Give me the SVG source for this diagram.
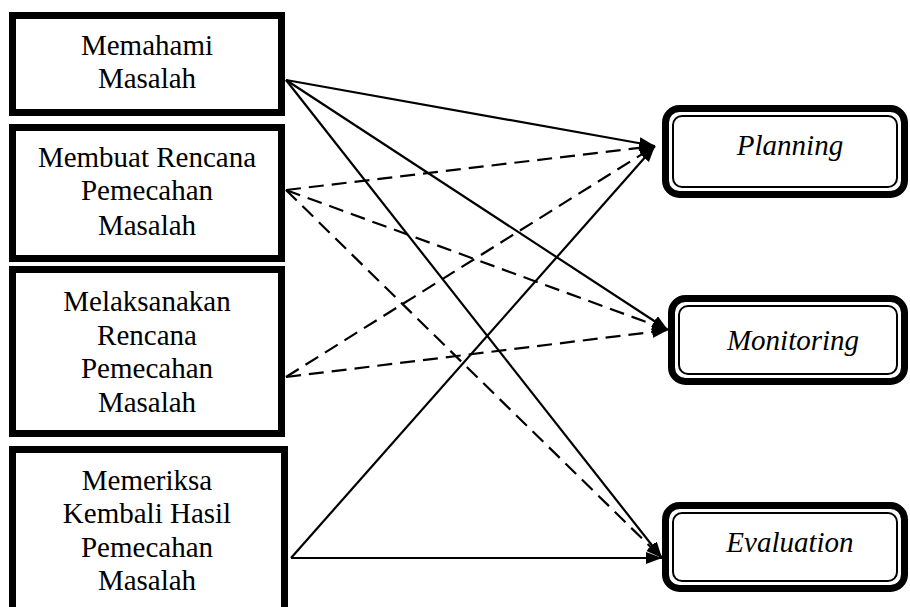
<svg xmlns="http://www.w3.org/2000/svg" width="910" height="607" viewBox="0 0 910 607">
<style>
.box{fill:#fff;stroke:#000;stroke-width:7}
.outer{fill:#fff;stroke:#000;stroke-width:7}
.inner{fill:none;stroke:#000;stroke-width:2}
text{font-family:'Liberation Serif','Times New Roman','DejaVu Serif',serif;font-size:29px;fill:#000;text-anchor:middle}
.ti{font-style:italic}
.c{stroke:#000;stroke-width:2.2;fill:none;marker-end:url(#ah)}
.d{stroke-dasharray:15 8}
</style>
<defs>
<marker id="ah" markerUnits="userSpaceOnUse" markerWidth="18" markerHeight="14" refX="16" refY="6" orient="auto">
<path d="M0,0 L16,6 L0,12 z" fill="#000"/>
</marker>
</defs>
<g id="connectors">
<line class="c" x1="286" y1="80" x2="655" y2="146"/>
<line class="c" x1="286" y1="80" x2="668" y2="330"/>
<line class="c" x1="286" y1="80" x2="662" y2="558"/>
<line class="c d" x1="286" y1="190" x2="655" y2="146"/>
<line class="c d" x1="286" y1="190" x2="668" y2="330"/>
<line class="c d" x1="286" y1="190" x2="662" y2="558"/>
<line class="c d" x1="286" y1="377" x2="655" y2="146"/>
<line class="c d" x1="286" y1="377" x2="668" y2="330"/>
<line class="c" x1="291" y1="558" x2="655" y2="146"/>
<line class="c" x1="291" y1="558" x2="662" y2="558"/>
</g>
<g id="n1" font-family="Liberation Serif, serif">
<rect class="box" x="12.5" y="15.5" width="269" height="97"/>
<text x="147" y="55">Memahami</text>
<text x="147" y="88">Masalah</text>
</g>
<g id="n2">
<rect class="box" x="12.5" y="127.5" width="269" height="131"/>
<text x="147" y="167">Membuat Rencana</text>
<text x="147" y="200">Pemecahan</text>
<text x="147" y="235">Masalah</text>
</g>
<g id="n3">
<rect class="box" x="12.5" y="269.5" width="269" height="164"/>
<text x="147" y="311">Melaksanakan</text>
<text x="147" y="345">Rencana</text>
<text x="147" y="378">Pemecahan</text>
<text x="147" y="412">Masalah</text>
</g>
<g id="n4">
<rect class="box" x="12.5" y="449.5" width="272" height="170"/>
<text x="147" y="490">Memeriksa</text>
<text x="147" y="523">Kembali Hasil</text>
<text x="147" y="557">Pemecahan</text>
<text x="147" y="590">Masalah</text>
</g>
<g id="planning">
<rect class="outer" x="665.5" y="108.5" width="239" height="86" rx="14"/>
<rect class="inner" x="673" y="116" width="224" height="71" rx="9"/>
<text class="ti" x="790" y="155">Planning</text>
</g>
<g id="monitoring">
<rect class="outer" x="671.5" y="298.5" width="233" height="83" rx="14"/>
<rect class="inner" x="679" y="306" width="218" height="68" rx="9"/>
<text class="ti" x="793" y="350">Monitoring</text>
</g>
<g id="evaluation">
<rect class="outer" x="665.5" y="505.5" width="239" height="83" rx="14"/>
<rect class="inner" x="673" y="513" width="224" height="68" rx="9"/>
<text class="ti" x="790" y="552">Evaluation</text>
</g>
</svg>
